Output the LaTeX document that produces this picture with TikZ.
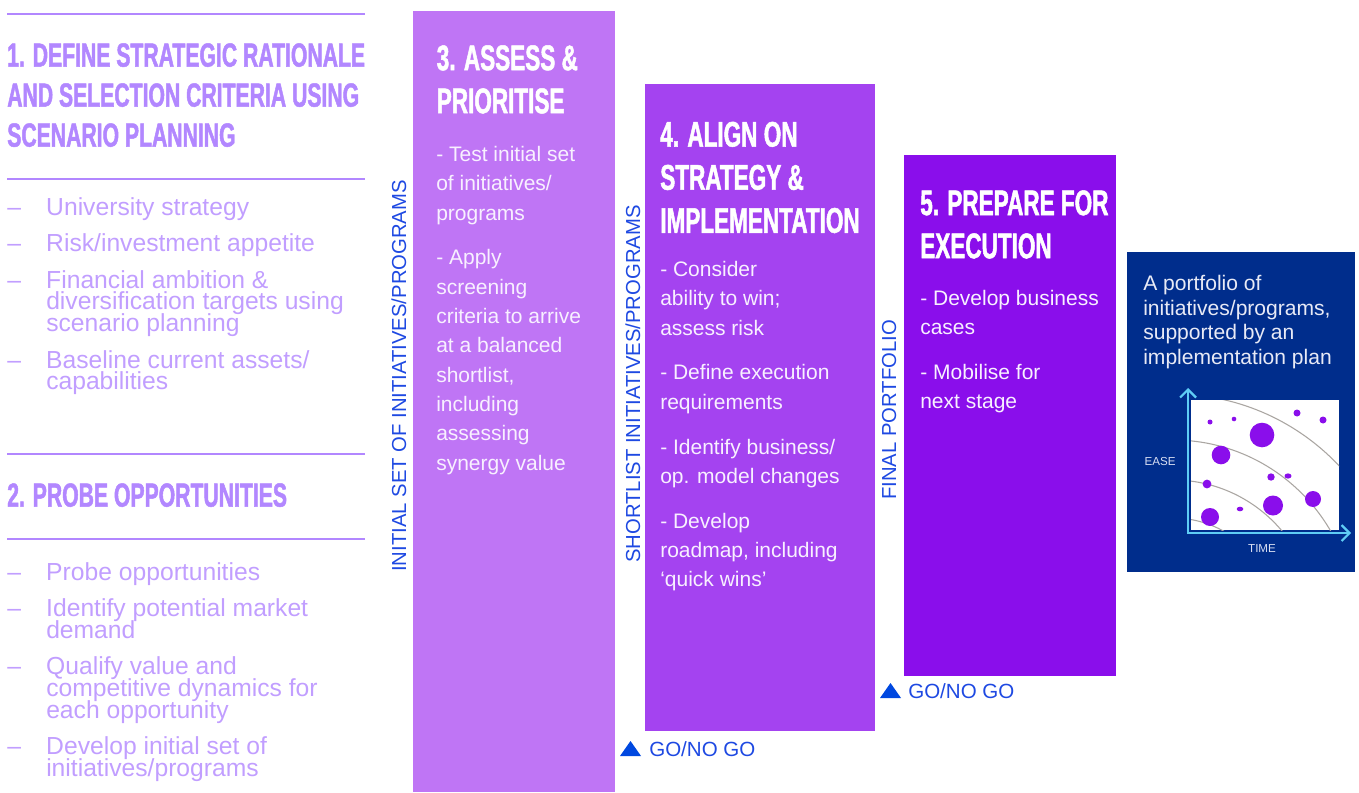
\documentclass[tikz,border=0pt]{standalone}
\usepackage{fontspec}
\setmainfont{Liberation Sans}
\newfontfamily\headfont[FakeStretch=0.633,FakeBold=1.4]{Liberation Sans}
\usepackage{tikz}
\usetikzlibrary{arrows.meta}
\lineskiplimit=-40pt
\newcommand{\dashlead}{\makebox[29.25pt][l]{–}}
\newcommand{\dashcont}{\hspace*{29.25pt}}

\begin{document}
\begin{tikzpicture}[x=0.75pt,y=0.75pt,yscale=-1,xscale=1,
  lefthead/.style={anchor=north west, inner sep=0pt, align=left, text={rgb,255:red,178;green,135;blue,255}, font=\headfont\bfseries\fontsize{25.1}{30}\selectfont},
  leftlist/.style={anchor=north west, inner sep=0pt, align=left, text={rgb,255:red,193;green,158;blue,255}, font=\fontsize{18.5}{16.2}\selectfont},
  stagehead/.style={anchor=north west, inner sep=0pt, align=left, text=white, font=\headfont\bfseries\fontsize{26.7}{32.3}\selectfont},
  stagetext/.style={anchor=north west, inner sep=0pt, align=left, text={rgb,255:red,248;green,240;blue,255}, font=\fontsize{15.75}{22}\selectfont},
  sidelabel/.style={rotate=90, anchor=base west, inner sep=0pt, text={rgb,255:red,30;green,73;blue,226}, font=\fontsize{15.2}{18}\selectfont},
  golabel/.style={anchor=base west, inner sep=0pt, text={rgb,255:red,30;green,73;blue,226}, font=\fontsize{15.4}{18}\selectfont},
  rulerline/.style={color={rgb,255:red,178;green,135;blue,255}, line width=0.9pt},
  dotfill/.style={fill={rgb,255:red,138;green,14;blue,235}},
]
\useasboundingbox (0,0) rectangle (1359,792);

%Shape: Rectangle (stage 3)
\draw [draw opacity=0][fill={rgb, 255:red, 191; green, 117; blue, 245}, fill opacity=1] (413,11) -- (615,11) -- (615,792) -- (413,792) -- cycle;
%Shape: Rectangle (stage 4)
\draw [draw opacity=0][fill={rgb, 255:red, 164; green, 67; blue, 240}, fill opacity=1] (645,84) -- (875,84) -- (875,731) -- (645,731) -- cycle;
%Shape: Rectangle (stage 5)
\draw [draw opacity=0][fill={rgb, 255:red, 138; green, 14; blue, 235}, fill opacity=1] (904,155) -- (1116,155) -- (1116,676) -- (904,676) -- cycle;
%Shape: Rectangle (result)
\draw [draw opacity=0][fill={rgb, 255:red, 0; green, 45; blue, 140}, fill opacity=1] (1127,252) -- (1355,252) -- (1355,572) -- (1127,572) -- cycle;

%Straight Lines (left column)
\draw [rulerline] (7,14) -- (365,14);
\draw [rulerline] (7,179) -- (365,179);
\draw [rulerline] (7,454) -- (365,454);
\draw [rulerline] (7,539) -- (365,539);

% Text Node
\draw (7,43) node [lefthead] (title1) {1. DEFINE STRATEGIC RATIONALE\\AND SELECTION CRITERIA USING\\SCENARIO PLANNING};
% Text Node
\draw (7,197) node [leftlist] (list1) {\dashlead University strategy\\[11.25pt]\dashlead Risk/investment appetite\\[11.25pt]\dashlead Financial ambition \&\\\dashcont diversification targets using\\\dashcont scenario planning\\[11.25pt]\dashlead Baseline current assets/\\\dashcont capabilities};
% Text Node
\draw (7,483) node [lefthead] (title2) {2. PROBE OPPORTUNITIES};
% Text Node
\draw (7,562) node [leftlist] (list2) {\dashlead Probe opportunities\\[11.25pt]\dashlead Identify potential market\\\dashcont demand\\[11.25pt]\dashlead Qualify value and\\\dashcont competitive dynamics for\\\dashcont each opportunity\\[11.25pt]\dashlead Develop initial set of\\\dashcont initiatives/programs};

% Text Node
\draw (436.5,45) node [stagehead] (head3) {3. ASSESS \&\\PRIORITISE};
% Text Node
\draw (436,146) node [stagetext] (text3) {- Test initial set\\of initiatives/\\programs\\[11.6pt]- Apply\\screening\\criteria to arrive\\at a balanced\\shortlist,\\including\\assessing\\synergy value};
% Text Node
\draw (660,121.5) node [stagehead] (head4) {4. ALIGN ON\\STRATEGY \&\\IMPLEMENTATION};
% Text Node
\draw (660,261) node [stagetext] (text4) {- Consider\\ability to win;\\assess risk\\[11.6pt]- Define execution\\requirements\\[11.6pt]- Identify business/\\op. model changes\\[11.6pt]- Develop\\roadmap, including\\‘quick wins’};
% Text Node
\draw (920,190) node [stagehead] (head5) {5. PREPARE FOR\\EXECUTION};
% Text Node
\draw (920,290) node [stagetext] (text5) {- Develop business\\cases\\[11.6pt]- Mobilise for\\next stage};
% Text Node
\draw (1143,275) node [anchor=north west, inner sep=0pt, align=left, text={rgb,255:red,232;green,234;blue,246}, font=\fontsize{15.8}{18.4}\selectfont] (result) {A portfolio of\\initiatives/programs,\\supported by an\\implementation plan};

% Text Node (vertical)
\draw (406,572) node [sidelabel] (initial) {INITIAL SET OF INITIATIVES/PROGRAMS};
% Text Node (vertical)
\draw (640,563) node [sidelabel] (shortlist) {SHORTLIST INITIATIVES/PROGRAMS};
% Text Node (vertical)
\draw (896,500) node [sidelabel] (final) {FINAL PORTFOLIO};

%Shape: Triangle
\fill [color={rgb, 255:red, 0; green, 72; blue, 224}] (620,756) -- (641,756) -- (630.5,741) -- cycle;
% Text Node
\draw (649,756) node [golabel] (gate1) {GO/NO GO};
%Shape: Triangle
\fill [color={rgb, 255:red, 0; green, 72; blue, 224}] (880,698) -- (901,698) -- (890.5,683) -- cycle;
% Text Node
\draw (908,698) node [golabel] (gate2) {GO/NO GO};

%Shape: Rectangle (plot area)
\draw [draw opacity=0][fill=white, fill opacity=1] (1191,400) -- (1339,400) -- (1339,530) -- (1191,530) -- cycle;
%Shape: Arcs
\begin{scope}
\clip (1191,400) rectangle (1339,530);
\draw [color={rgb, 255:red, 170; green, 166; blue, 162}, line width=0.8pt] (1173,622) circle (104);
\draw [color={rgb, 255:red, 170; green, 166; blue, 162}, line width=0.8pt] (1173,622) circle (142);
\draw [color={rgb, 255:red, 170; green, 166; blue, 162}, line width=0.8pt] (1173,622) circle (182);
\draw [color={rgb, 255:red, 170; green, 166; blue, 162}, line width=0.8pt] (1173,622) circle (228);
\end{scope}
%Shape: Circles
\fill [dotfill] (1210,422) circle (2.5);
\fill [dotfill] (1234,419) circle (2.3);
\fill [dotfill] (1297,413) circle (3.5);
\fill [dotfill] (1323,420) circle (3.5);
\fill [dotfill] (1262,435) circle (12.3);
\fill [dotfill] (1221,455) circle (9.3);
\fill [dotfill] (1207,484) circle (4.4);
\fill [dotfill] (1271,477) circle (3.7);
\fill [dotfill] (1288,476) ellipse (3.5 and 2.6);
\fill [dotfill] (1313,499) circle (8);
\fill [dotfill] (1273,505.5) circle (10);
\fill [dotfill] (1240,509) ellipse (3.3 and 2.3);
\fill [dotfill] (1210,517) circle (9);
%Straight Lines (axes)
\draw [color={rgb, 255:red, 95; green, 205; blue, 245}, line width=1.6pt, {Straight Barb[length=6pt,width=12pt]}-{Straight Barb[length=6pt,width=12pt]}] (1188,388) -- (1188,533) -- (1351,533);
% Text Node
\draw (1160,462) node [text={rgb,255:red,216;green,222;blue,242}, font=\fontsize{8.7}{10}\selectfont] (ease) {EASE};
% Text Node
\draw (1262,549) node [text={rgb,255:red,216;green,222;blue,242}, font=\fontsize{8.7}{10}\selectfont] (time) {TIME};

\end{tikzpicture}
\end{document}
